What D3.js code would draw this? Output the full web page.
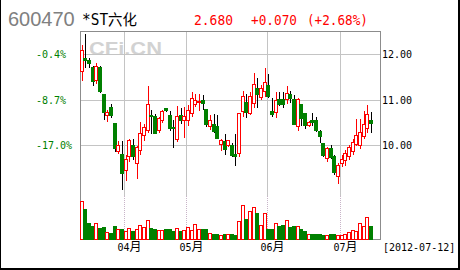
<!DOCTYPE html>
<html>
<head>
<meta charset="utf-8">
<script src="https://cdn.jsdelivr.net/npm/d3@7"></script>
<style>
  body { margin: 0; background: #fff; }
  svg { display: block; }
</style>
</head>
<body>
<div id="chart"></div>
<script>
var svgWidth = 460;
var svgHeight = 270;

// plot frame (price panel on top, volume panel below)
var frame = { left: 80, right: 380, top: 31, bottom: 239 };
var volTop = 201;
var slots = 82;

// daily candles 2012-03-15 .. 2012-07-12
var opens = [11.62, 11.90, 11.85, 11.70, 11.41, 11.71, 11.11, 10.64, 10.83, 10.48,
  9.85, 9.80, 9.43, 9.74, 10.00, 9.59, 9.87, 10.20, 10.32, 10.65,
  10.62, 10.31, 10.54, 10.80, 10.64, 10.39, 10.13, 10.64, 10.53, 10.53,
  10.70, 10.90, 10.93, 10.97, 10.78, 10.40, 10.46, 10.40, 10.02, 10.07,
  9.98, 10.00, 9.80, 9.81, 10.73, 10.93, 10.69, 10.91, 11.25, 11.04,
  11.17, 11.30, 10.73, 10.71, 11.00, 11.00, 11.00, 11.11, 11.00, 10.40,
  10.89, 10.69, 10.42, 10.53, 10.54, 10.29, 10.04, 9.71, 9.93, 9.74,
  9.30, 9.59, 9.65, 9.74, 9.85, 10.02, 10.00, 10.18, 10.37, 10.54];
var highs = [12.20, 12.44, 11.91, 11.74, 11.80, 11.74, 11.12, 10.77, 10.91, 10.49,
  10.09, 10.09, 9.78, 10.13, 10.13, 9.98, 10.51, 10.47, 11.30, 10.77,
  10.68, 10.62, 10.78, 10.82, 10.75, 10.54, 10.86, 10.82, 10.84, 10.88,
  11.17, 11.12, 11.11, 11.10, 10.79, 10.66, 10.68, 10.66, 10.13, 10.24,
  10.11, 10.04, 10.24, 10.70, 11.19, 11.11, 11.17, 11.59, 11.47, 11.32,
  11.69, 11.57, 11.04, 11.17, 11.17, 11.17, 11.30, 11.19, 11.10, 11.04,
  10.91, 10.71, 10.53, 10.71, 10.62, 10.32, 10.05, 9.96, 10.00, 9.78,
  9.61, 9.78, 9.89, 10.00, 10.13, 10.57, 10.57, 10.75, 10.88, 10.73];
var lows = [11.40, 11.69, 11.69, 11.30, 11.34, 11.14, 10.55, 10.51, 10.59, 9.85,
  9.80, 9.02, 9.21, 9.63, 9.67, 9.25, 9.78, 10.09, 10.27, 10.24,
  10.24, 10.26, 10.49, 10.73, 10.31, 9.93, 10.07, 10.46, 10.15, 10.42,
  10.62, 10.84, 10.75, 10.77, 10.40, 10.33, 10.26, 10.14, 9.87, 9.78,
  9.96, 9.74, 9.54, 9.74, 10.62, 10.60, 10.66, 10.81, 10.81, 10.99,
  11.06, 11.04, 10.62, 10.59, 10.86, 10.81, 10.91, 10.93, 10.44, 10.31,
  10.42, 10.35, 10.40, 10.42, 10.29, 10.05, 9.74, 9.63, 9.69, 9.34,
  9.14, 9.52, 9.54, 9.67, 9.78, 9.98, 9.91, 10.13, 10.27, 10.27];
var closes = [12.07, 11.85, 11.79, 11.39, 11.72, 11.17, 10.71, 10.71, 10.64, 9.93,
  9.98, 9.37, 9.69, 10.09, 9.74, 9.94, 10.26, 10.38, 10.89, 10.63,
  10.25, 10.59, 10.73, 10.75, 10.36, 10.36, 10.62, 10.53, 10.62, 10.75,
  11.03, 10.97, 10.95, 10.92, 10.46, 10.53, 10.29, 10.15, 10.09, 9.91,
  10.09, 9.77, 9.75, 10.69, 11.06, 10.71, 11.06, 11.33, 11.10, 11.25,
  11.37, 11.06, 10.67, 10.98, 10.89, 10.90, 11.14, 11.02, 10.44, 11.00,
  10.59, 10.42, 10.49, 10.50, 10.32, 10.18, 9.78, 9.93, 9.73, 9.39,
  9.54, 9.69, 9.82, 9.94, 10.05, 10.20, 10.27, 10.44, 10.67, 10.48];
var volumes = [38, 30, 15.7, 12.3, 15.7, 10.7, 12, 6.7, 5.7, 13,
  9.7, 9.7, 8, 10.7, 7.3, 9.7, 14, 11.7, 19, 10.7,
  9.7, 8.3, 8.3, 10, 9.3, 8, 10.7, 8, 9, 11.7,
  9, 14.7, 10, 10, 10, 5.7, 5, 4.7, 4, 4.7,
  4.7, 4.7, 3.3, 17.3, 34, 20, 28, 31.7, 25.7, 14,
  25.7, 10, 10, 15.7, 12.3, 14, 19, 11.7, 12.3, 12.3,
  10, 8, 4.7, 4.7, 4.7, 4.7, 4, 4, 4.7, 4.7,
  3.3, 3.3, 4.7, 6.7, 9, 7.3, 15.7, 12.3, 21.7, 13];

var monthStarts = [12, 29, 51, 71];
var monthLabels = ["04", "05", "06", "07"];
var priceTicks = [12, 11, 10];
var pctLabels = ["-0.4%", "-8.7%", "-17.0%"];

var upColor = "#ff0000";
var downColor = "#008000";
var gridColor = "#c4c4c4";
var mono = "'DejaVu Sans Mono', 'Liberation Mono', monospace";
var cjk = "'Noto Sans CJK SC', sans-serif";

var svg = d3.select("#chart")
  .append("svg")
  .attr("width", svgWidth)
  .attr("height", svgHeight);

// scales
var xScale = d3.scaleLinear().domain([0, slots]).range([frame.left, frame.right]);
var yScale = d3.scaleLinear().domain([9, 12.5]).range([190.5, 31.25]);
var vScale = d3.scaleLinear().domain([0, d3.max(volumes)]).range([frame.bottom, volTop]);

var candles = opens.map(function(o, i) {
  return { i: i, open: o, high: highs[i], low: lows[i], close: closes[i], vol: volumes[i], up: closes[i] >= o };
});

// header
var header = svg.append("g");
header.append("text")
  .attr("x", 8).attr("y", 26)
  .attr("font-family", "'Liberation Sans', Arial, sans-serif")
  .attr("font-size", "20px")
  .attr("fill", "#808080")
  .text("600470");
header.append("text")
  .attr("x", 82).attr("y", 25)
  .attr("font-family", mono + ", " + cjk)
  .attr("font-size", "15px")
  .attr("textLength", 55).attr("lengthAdjust", "spacingAndGlyphs")
  .attr("fill", "#000")
  .text("*ST六化");
[["2.680", 194, 39], ["+0.070", 251, 46], ["(+2.68%)", 307, 61]].forEach(function(t) {
  header.append("text")
    .attr("x", t[1]).attr("y", 25)
    .attr("font-family", mono)
    .attr("font-size", "14px")
    .attr("textLength", t[2]).attr("lengthAdjust", "spacingAndGlyphs")
    .attr("fill", upColor)
    .text(t[0]);
});

// outer border (right / bottom heavier)
svg.append("line").attr("x1", 0.5).attr("x2", 0.5).attr("y1", 0).attr("y2", 270).attr("stroke", "#000");
svg.append("line").attr("x1", 459).attr("x2", 459).attr("y1", 0).attr("y2", 270).attr("stroke", "#000").attr("stroke-width", 2);
svg.append("line").attr("x1", 0).attr("x2", 460).attr("y1", 269).attr("y2", 269).attr("stroke", "#000").attr("stroke-width", 2);

// watermark
svg.append("text")
  .attr("x", 89).attr("y", 55)
  .attr("font-family", "'Liberation Sans', Arial, sans-serif")
  .attr("font-weight", "bold")
  .attr("font-size", "19px")
  .attr("textLength", 73).attr("lengthAdjust", "spacingAndGlyphs")
  .attr("fill", "#d2d2d2")
  .text("CFi.CN");

var grid = svg.append("g").attr("shape-rendering", "crispEdges");

// horizontal grid + axis labels
priceTicks.forEach(function(p, k) {
  var y = Math.round(yScale(p)) + 0.5;
  grid.append("line")
    .attr("x1", frame.left).attr("x2", frame.right)
    .attr("y1", y).attr("y2", y)
    .attr("stroke", gridColor);
  svg.append("text")
    .attr("x", 36).attr("y", y + 3.5)
    .attr("font-family", mono).attr("font-size", "10px")
    .attr("fill", downColor)
    .text(pctLabels[k]);
  svg.append("text")
    .attr("x", 382).attr("y", y + 3.5)
    .attr("font-family", mono).attr("font-size", "10px")
    .attr("fill", "#000")
    .text(d3.format(".2f")(p));
});

// month grid lines + labels
monthStarts.forEach(function(m, k) {
  var x = Math.round(xScale(m)) + 0.5;
  grid.append("line")
    .attr("x1", x).attr("x2", x)
    .attr("y1", frame.top).attr("y2", 196)
    .attr("stroke", gridColor);
  grid.append("line")
    .attr("x1", x).attr("x2", x)
    .attr("y1", 196).attr("y2", frame.bottom)
    .attr("stroke", "#c8b4c8")
    .attr("stroke-dasharray", "1,1");
  var lbl = svg.append("text")
    .attr("x", x - 7).attr("y", 250.5)
    .attr("fill", "#000");
  lbl.append("tspan").attr("font-family", mono).attr("font-size", "10px").text(monthLabels[k]);
  lbl.append("tspan").attr("font-family", cjk).attr("font-size", "12px").text("月");
});

svg.append("text")
  .attr("x", 383).attr("y", 250.5)
  .attr("font-family", mono).attr("font-size", "10px")
  .attr("fill", "#000")
  .text("[2012-07-12]");

// frame
svg.append("rect")
  .attr("x", frame.left + 0.5).attr("y", frame.top + 0.5)
  .attr("width", frame.right - frame.left).attr("height", frame.bottom - frame.top)
  .attr("fill", "none")
  .attr("stroke", "#8c8c8c")
  .attr("shape-rendering", "crispEdges");

var plot = svg.append("g").attr("shape-rendering", "crispEdges");
var cx = function(d) { return Math.round(xScale(d.i + 0.5)); };

// volume bars
plot.selectAll(".vol")
  .data(candles)
  .enter()
  .append("rect")
  .attr("x", d => cx(d) - 1.5)
  .attr("y", d => vScale(d.vol))
  .attr("width", 3)
  .attr("height", d => frame.bottom - vScale(d.vol))
  .attr("fill", d => d.up ? "#fff" : downColor)
  .attr("stroke", d => d.up ? upColor : downColor);

// wicks
plot.selectAll(".wick")
  .data(candles)
  .enter()
  .append("line")
  .attr("x1", d => cx(d) + 0.5)
  .attr("x2", d => cx(d) + 0.5)
  .attr("y1", d => yScale(d.high))
  .attr("y2", d => yScale(d.low))
  .attr("stroke", d => d.up ? upColor : "#000");

// bodies
plot.selectAll(".body")
  .data(candles)
  .enter()
  .append("rect")
  .attr("x", d => cx(d) - 1.5)
  .attr("y", d => yScale(Math.max(d.open, d.close)))
  .attr("width", 3)
  .attr("height", d => Math.max(1, Math.abs(yScale(d.open) - yScale(d.close))))
  .attr("fill", d => d.up ? "#fff" : downColor)
  .attr("stroke", d => d.up ? upColor : downColor);
</script>
</body>
</html>
